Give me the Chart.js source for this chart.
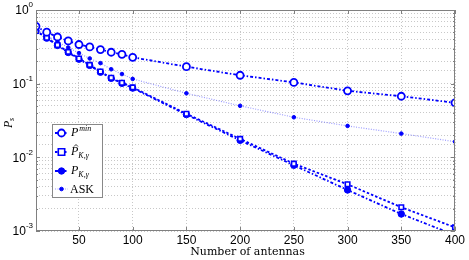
<!DOCTYPE html>
<html lang="en">
<head>
<meta charset="UTF-8">
<title>Ps vs number of antennas</title>
<script src="https://cdn.jsdelivr.net/npm/chart.js"></script>
<style>
  html, body { margin: 0; padding: 0; background: #fff; }
  #wrap { width: 469px; height: 260px; }
</style>
</head>
<body>
<div id="wrap"><canvas id="psChart"></canvas></div>
<script>
const antennas = [10, 20, 30, 40, 50, 60, 70, 80, 90, 100, 150, 200, 250, 300, 350, 400];
const pMin = [0.60, 0.50, 0.43, 0.38, 0.34, 0.315, 0.29, 0.267, 0.25, 0.228, 0.17, 0.13, 0.104, 0.080, 0.0675, 0.055];
const pHat = [0.52, 0.42, 0.335, 0.27, 0.22, 0.18, 0.146, 0.12, 0.103, 0.089, 0.039, 0.0178, 0.0082, 0.0043, 0.0021, 0.00112];
const pK = [0.52, 0.415, 0.33, 0.265, 0.215, 0.177, 0.143, 0.118, 0.101, 0.087, 0.038, 0.017, 0.0078, 0.0036, 0.0017, 0.00088];
const ask = [0.55, 0.45, 0.37, 0.31, 0.26, 0.22, 0.19, 0.157, 0.135, 0.116, 0.074, 0.050, 0.035, 0.0267, 0.021, 0.0163];
const xTicks = [50, 100, 150, 200, 250, 300, 350, 400];
const yTicks = [1, 0.1, 0.01, 0.001];
const yTickExp = ['0', '-1', '-2', '-3'];

const BLUE = '#0000ff';
const SANS = '"Liberation Sans", Arial, sans-serif';
const SERIF = '"Liberation Serif", "DejaVu Serif", serif';

const pts = ys => antennas.map((x, i) => ({ x: x, y: ys[i] }));

// axis labels, frame and legend drawn on top in MATLAB style
const decor = {
  id: 'decor',
  afterDraw(chart) {
    const c = chart.ctx, a = chart.chartArea;
    const xs = chart.scales.x, ys = chart.scales.y;
    c.save();
    // frame
    c.strokeStyle = '#808080';
    c.lineWidth = 1;
    c.strokeRect(a.left + 0.5, a.top + 0.5, a.right - a.left - 1, a.bottom - a.top - 1);
    // inward tick marks
    c.beginPath();
    xTicks.forEach(v => {
      const px = Math.round(xs.getPixelForValue(v)) + 0.5;
      c.moveTo(px, a.bottom); c.lineTo(px, a.bottom - 4);
      c.moveTo(px, a.top); c.lineTo(px, a.top + 4);
    });
    for (let e = -3; e < 0; e++) {
      for (let m = 1; m <= 9; m++) {
        const py = Math.round(ys.getPixelForValue(m * Math.pow(10, e))) + 0.5;
        const len = m === 1 ? 4 : 2;
        c.moveTo(a.left, py); c.lineTo(a.left + len, py);
        c.moveTo(a.right, py); c.lineTo(a.right - len, py);
      }
    }
    c.stroke();

    // x tick labels
    c.fillStyle = '#000';
    c.font = '12px ' + SANS;
    c.textAlign = 'center';
    c.textBaseline = 'top';
    xTicks.forEach(v => c.fillText(String(v), xs.getPixelForValue(v), a.bottom + 4));
    // y tick labels 10^k
    yTicks.forEach((v, i) => {
      const py = ys.getPixelForValue(v);
      c.textBaseline = 'middle';
      c.font = '8px ' + SANS;
      c.textAlign = 'left';
      const ew = c.measureText(yTickExp[i]).width;
      const ex = a.left - 3 - ew;
      c.fillText(yTickExp[i], ex, py - 5);
      c.font = '12px ' + SANS;
      c.textAlign = 'right';
      c.fillText('10', ex, py + 1);
    });
    // axis titles
    c.font = '11px "DejaVu Serif", serif';
    c.textAlign = 'center';
    c.textBaseline = 'top';
    c.fillText('Number of antennas', (a.left + a.right) / 2 + 2, a.bottom + 16);
    c.save();
    c.translate(9, 123);
    c.rotate(-Math.PI / 2);
    c.textBaseline = 'middle';
    c.textAlign = 'left';
    c.font = 'italic 12px ' + SERIF;
    c.fillText('P', -5, 0);
    c.font = 'italic 8px ' + SERIF;
    c.fillText('s', 2, 3);
    c.restore();

    // legend
    const lx = 52, ly = 124, lw = 50, lh = 73;
    c.fillStyle = '#fff';
    c.fillRect(lx, ly, lw, lh);
    c.strokeStyle = '#888';
    c.lineWidth = 1;
    c.strokeRect(lx + 0.5, ly + 0.5, lw, lh);
    const rows = [
      { y: 133, ds: 0, sup: 'min' },
      { y: 152, ds: 1, sub: 'K,\u03B3', hat: true },
      { y: 171, ds: 2, sub: 'K,\u03B3' },
      { y: 189, ds: 3, ask: true }
    ];
    rows.forEach(r => {
      const d = chart.data.datasets[r.ds];
      c.strokeStyle = d.borderColor;
      c.lineWidth = d.borderWidth;
      c.setLineDash(d.borderDash || []);
      c.beginPath(); c.moveTo(55, r.y); c.lineTo(68, r.y); c.stroke();
      c.setLineDash([]);
      c.strokeStyle = BLUE;
      c.fillStyle = d.pointBackgroundColor;
      c.lineWidth = d.pointBorderWidth;
      const rad = d.pointRadius;
      c.beginPath();
      if (d.pointStyle === 'rect') c.rect(61.5 - rad, r.y - rad, rad * 2, rad * 2);
      else c.arc(61.5, r.y, rad, 0, Math.PI * 2);
      c.fill(); c.stroke();
      c.fillStyle = '#000';
      c.textAlign = 'left';
      c.textBaseline = 'middle';
      if (r.ask) {
        c.font = '12px ' + SERIF;
        c.fillText('ASK', 70, r.y + 1);
      } else {
        c.font = 'italic 12px ' + SERIF;
        c.fillText('P', 71, r.y);
        const w = c.measureText('P').width;
        if (r.hat) {
          c.strokeStyle = '#000';
          c.lineWidth = 0.8;
          c.beginPath();
          c.moveTo(74, r.y - 5.5); c.lineTo(76, r.y - 7.5); c.lineTo(78, r.y - 5.5);
          c.stroke();
        }
        c.font = 'italic 8px ' + SERIF;
        if (r.sup) c.fillText(r.sup, 71 + w + 1, r.y - 4);
        if (r.sub) c.fillText(r.sub, 71 + w, r.y + 4);
      }
    });
    c.restore();
  }
};

new Chart(document.getElementById('psChart'), {
  type: 'line',
  data: {
    datasets: [
      {
        label: 'Pmin', data: pts(pMin),
        borderColor: BLUE, borderWidth: 1.8, borderDash: [3, 2, 1.5, 2],
        pointStyle: 'circle', pointRadius: 3.5, pointBorderWidth: 1.8,
        pointBackgroundColor: '#fff', pointBorderColor: BLUE
      },
      {
        label: 'Phat', data: pts(pHat),
        borderColor: BLUE, borderWidth: 1.8, borderDash: [2.5, 2],
        pointStyle: 'rect', pointRadius: 3.2, pointBorderWidth: 1.6,
        pointBackgroundColor: '#fff', pointBorderColor: BLUE
      },
      {
        label: 'Pk', data: pts(pK),
        borderColor: BLUE, borderWidth: 1.8, borderDash: [3, 2, 1.5, 2],
        pointStyle: 'circle', pointRadius: 3.2, pointBorderWidth: 1,
        pointBackgroundColor: BLUE, pointBorderColor: BLUE
      },
      {
        label: 'ASK', data: pts(ask),
        borderColor: 'rgba(90, 90, 255, 0.6)', borderWidth: 1.2, borderDash: [1, 1.5],
        pointStyle: 'circle', pointRadius: 1.8, pointBorderWidth: 1,
        pointBackgroundColor: BLUE, pointBorderColor: BLUE
      }
    ]
  },
  options: {
    responsive: true,
    maintainAspectRatio: false,
    animation: false,
    layout: { padding: { left: 36, right: 14, top: 10, bottom: 29 } },
    plugins: { legend: { display: false }, tooltip: { enabled: false } },
    scales: {
      x: {
        type: 'linear', min: 10, max: 400,
        afterBuildTicks: s => { s.ticks = xTicks.map(v => ({ value: v })); },
        ticks: { display: false },
        border: { display: false, dash: [1, 2] },
        grid: { color: '#c8c8c8', lineWidth: 1, drawTicks: false }
      },
      y: {
        type: 'logarithmic', min: 0.001, max: 1,
        ticks: { display: false },
        border: { display: false, dash: [1, 2] },
        grid: { color: '#c8c8c8', lineWidth: 1, drawTicks: false }
      }
    }
  },
  plugins: [decor]
});
</script>
</body>
</html>
